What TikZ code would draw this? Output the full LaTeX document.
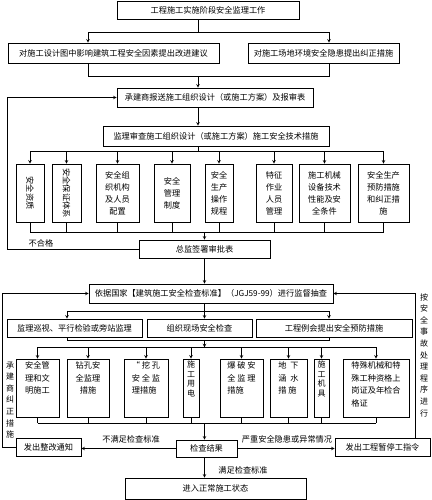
\documentclass[tikz,border=0pt]{standalone}
\usepackage{fontspec}
\setmainfont{Noto Sans CJK SC}
\usepackage{graphicx}

\tikzset{
  box/.style={draw, line width=0.7pt, inner sep=2pt, align=center, font=\fontsize{8.2}{12}\selectfont},
  col/.style={box, minimum height=58pt},
  ltxt/.style={anchor=north, align=center, inner sep=3pt, font=\fontsize{8.2}{12.5}\selectfont},
  stack/.style={ltxt, font=\fontsize{8}{9.5}\selectfont, inner sep=2pt},
  note/.style={inner sep=1pt, font=\fontsize{8.2}{10}\selectfont},
  vtxt/.style={align=center, inner sep=0pt, font=\fontsize{8}{11.6}\selectfont}
}

\begin{document}
\begin{tikzpicture}[x=1pt,y=-1pt,line width=0.6pt,>=stealth]
\useasboundingbox (0,0) rectangle (431,500);
\coordinate (c0) at (198,0);

\node[box, minimum width=182pt, minimum height=18pt] (top) at (208,10) {工程施工实施阶段安全监理工作};
\node[box, minimum width=211pt, minimum height=20pt] (s1) at (113.5,53) {对施工设计图中影响建筑工程安全因素提出改进建议};
\node[box, minimum width=151pt, minimum height=20pt] (s2) at (323.5,53) {对施工场地环境安全隐患提出纠正措施};
\node[box, minimum width=196pt, minimum height=19pt] (rep) at (215,97.5) {承建商报送施工组织设计（或施工方案）及报审表};
\node[box, minimum width=226pt, minimum height=20pt] (rev) at (216,136) {监理审查施工组织设计（或施工方案）施工安全技术措施};

\node[col, minimum width=28pt] (t1) at (30,193) {\rotatebox{-90}{安全资质}};
\node[col, minimum width=29pt] (t2) at (66.5,193) {\rotatebox{-90}{安全保证体系}};
\node[col, minimum width=43pt] (t3) at (117.5,193) {安全组\\织机构\\及人员\\配置};
\node[col, minimum width=36pt] (t4) at (172,193) {安全\\管理\\制度};
\node[col, minimum width=28pt] (t5) at (219,193) {安全\\生产\\操作\\规程};
\node[col, minimum width=36pt] (t6) at (274,193) {特征\\作业\\人员\\管理};
\node[col, minimum width=51pt] (t7) at (324.5,193) {施工机械\\设备技术\\性能及安\\全条件};
\node[col, minimum width=51pt] (t8) at (383.5,193) {安全生产\\预防措施\\和纠正措\\施};

\node[box, minimum width=131pt, minimum height=18pt] (sig) at (204.5,249) {总监签署审批表};
\node[box, minimum width=244pt, minimum height=19pt] (std) at (211,293.5) {依据国家【建筑施工安全检查标准】（JGJ59-99）进行监督抽查};

\node[box, minimum width=135pt, minimum height=18pt] (m1) at (74.5,328) {监理巡视、平行检验或旁站监理};
\node[box, minimum width=105pt, minimum height=18pt] (m2) at (199.5,328) {组织现场安全检查};
\node[box, minimum width=156pt, minimum height=18pt] (m3) at (334,328) {工程例会提出安全预防措施};

\node[col, minimum width=43pt, label={[ltxt]north:安全管\\理和文\\明施工}] (u1) at (37.5,388) {};
\node[col, minimum width=42pt, label={[ltxt]north:钻孔安\\全监理\\措施}] (u2) at (88,388) {};
\node[col, minimum width=44pt, label={[ltxt, align=left]north:“ 挖 孔\\安 全 监\\理措施}] (u3) at (146,388) {};
\node[col, minimum width=16pt, label={[stack]north:施\\工\\用\\电}] (u4) at (191,388) {};
\node[col, minimum width=43pt, label={[ltxt, align=left]north:爆 破 安\\全 监 理\\措施}] (u5) at (241.5,388) {};
\node[col, minimum width=37pt, label={[ltxt, align=left]north:地 \ 下\\涵 \ 水\\措 施}] (u6) at (288.5,388) {};
\node[col, minimum width=15pt, label={[stack]north:施\\工\\机\\具}] (u7) at (321.5,388) {};
\node[col, minimum width=66pt, label={[ltxt, align=left]north:特殊机械和特\\殊工种资格上\\岗证及年检合\\格证}] (u8) at (376,388) {};

\node[box, minimum width=61pt, minimum height=17pt] (res) at (206.5,448.5) {检查结果};
\node[box, minimum width=65pt, minimum height=18pt] (rec) at (48.5,447) {发出整改通知};
\node[box, minimum width=95pt, minimum height=18pt] (stop) at (382.5,447) {发出工程暂停工指令};
\node[box, minimum width=181pt, minimum height=21pt] (go) at (215.5,488.5) {进入正常施工状态};

\node[note] (ng) at (41,243) {不合格};
\node[note] (nf) at (131,439) {不满足检查标准};
\node[note] (ser) at (287,439) {严重安全隐患或异常情况};
\node[note] (ok) at (243,470) {满足检查标准};
\node[vtxt] (fix) at (10,400) {承\\建\\商\\纠\\正\\措\\施};
\node[vtxt] (acc) at (424,355) {按\\安\\全\\事\\故\\处\\理\\程\\序\\进\\行};

\draw (top.south -| c0) -- ++(0,13) coordinate (f1);
\draw[->] (f1) -| ([xshift=-25.5pt]s1.north);
\draw[->] (f1) -| ([xshift=5.5pt]s2.north);
\draw ([xshift=-25.5pt]s1.south) -- ++(0,13) -| ([xshift=5.5pt]s2.south);
\draw[<-] (rep.north -| c0) -- ++(0,-12);
\draw[->] (rep.south -| c0) -- (rev.north -| c0);

\draw (rev.south -| c0) -- ++(0,5) coordinate (f2);
\draw (t1.north |- f2) -- (t8.north |- f2);
\path (sig.north) ++(0,-7) coordinate (j2);
\draw (t1.south |- j2) -- (t8.south |- j2);
\foreach \i in {1,...,8} {
  \draw[->] (t\i.north |- f2) -- (t\i.north);
  \draw (t\i.south) -- (t\i.south |- j2);
}
\draw[->] (j2) -- (sig.north);
\draw[->] (sig.west) -- ++(-131,0) |- (rep.west);

\draw[->] (sig.south) -- (sig.south |- std.north);
\path (sig.south |- std.south) ++(0,8) coordinate (f3);
\draw (std.south -| f3) -- (f3);
\draw ([xshift=-7.5pt]m1.north |- f3) -- ([xshift=-5pt]m3.north |- f3);
\draw[->] ([xshift=-7.5pt]m1.north |- f3) -- ([xshift=-7.5pt]m1.north);
\draw[->] (f3) -- (f3 |- m2.north);
\draw[->] ([xshift=-5pt]m3.north |- f3) -- ([xshift=-5pt]m3.north);
\draw ([xshift=-7.5pt]m1.south) -- ++(0,3) -| ([xshift=-5pt]m3.south);
\path (m2.south -| f3) ++(0,3) coordinate (j3);
\draw[->] (j3) -- ++(0,7) coordinate (f4);

\draw (u1.north |- f4) -- (u8.north |- f4);
\path (u1.south -| f3) ++(0,6) coordinate (j4);
\draw (u1.south |- j4) -- (u8.south |- j4);
\foreach \i in {1,...,8} {
  \draw[->] (u\i.north |- f4) -- (u\i.north);
  \draw (u\i.south) -- (u\i.south |- j4);
}
\draw[->] (j4) -- (j4 |- res.north);

\draw[->] (res.west) -- (rec.east |- res.west);
\draw[->] (res.east) -- (stop.west |- res.east);
\draw[->] (res.south -| j4) -- (go.north -| j4);
\draw[->] (rec.west) -- ++(-13,0) |- (std.west);
\draw[->] ([xshift=32.5pt]stop.north) |- (std.east);
\end{tikzpicture}
\end{document}
